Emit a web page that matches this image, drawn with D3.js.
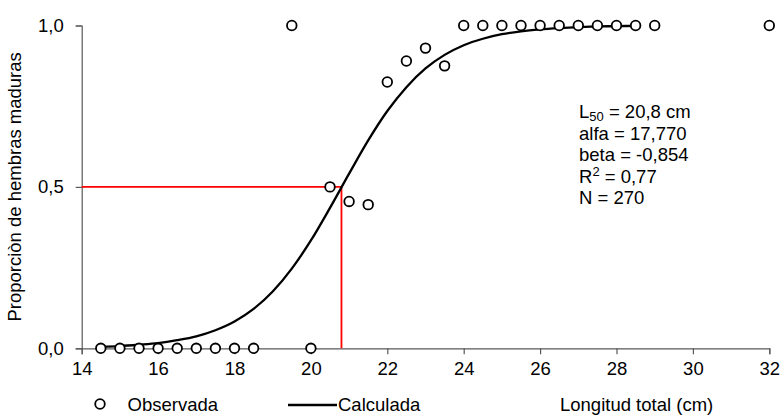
<!DOCTYPE html>
<html lang="es">
  <head>
    <meta charset="UTF-8" />
    <title>Ojiva de madurez</title>
    <style>
      body {
        margin: 0;
        background: #fff;
        font-family: "Liberation Sans", Arial, sans-serif;
      }
      svg text {
        fill: #000;
        font-size: 18.5px;
      }
    </style>
  </head>
  <body>
    <div id="chart"></div>
    <script src="https://d3js.org/d3.v7.min.js"></script>
    <script>
      // observed proportion of mature females by length class
      const obsLength = [14.5, 15, 15.5, 16, 16.5, 17, 17.5, 18, 18.5, 19.5, 20, 20.5, 21, 21.5,
        22, 22.5, 23, 23.5, 24, 24.5, 25, 25.5, 26, 26.5, 27, 27.5, 28, 28.5, 29, 32];
      const obsProp = [0, 0, 0, 0, 0, 0, 0, 0, 0, 1, 0, 0.5, 0.455, 0.445,
        0.825, 0.89, 0.93, 0.875, 1, 1, 1, 1, 1, 1, 1, 1, 1, 1, 1, 1];

      // fitted curve
      const calcLength = [14.5, 15, 15.5, 16, 16.5, 17, 17.5, 18, 18.5, 19, 19.5, 20, 20.5, 21,
        21.5, 22, 22.5, 23, 23.5, 24, 24.5, 25, 25.5, 26, 26.5, 27, 27.5, 28, 28.5];
      const calcProp = [0.005, 0.007, 0.011, 0.016, 0.025, 0.037, 0.056, 0.083, 0.122, 0.176,
        0.247, 0.334, 0.435, 0.541, 0.644, 0.735, 0.809, 0.867, 0.909, 0.939, 0.959, 0.973,
        0.982, 0.988, 0.992, 0.995, 0.997, 0.998, 0.999];

      const L50 = 20.8;
      const xTicks = [14, 16, 18, 20, 22, 24, 26, 28, 30, 32];
      const yTicks = [0, 0.5, 1];
      const statLines = [
        ["L", "50", " = 20,8 cm"],
        ["alfa = 17,770"],
        ["beta = -0,854"],
        ["R", "2", " = 0,77"],
        ["N = 270"],
      ];

      const width = 780, height = 415;
      const svg = d3.select("#chart").append("svg")
        .attr("width", width).attr("height", height);

      const x = d3.scaleLinear().domain([14, 32]).range([81.7, 769.3]);
      const y = d3.scaleLinear().domain([0, 1]).range([348.3, 25.5]);
      const fmt = (d) => d.toFixed(1).replace(".", ",");

      // axes
      const xAxis = svg.append("g")
        .attr("transform", `translate(0,${y(0)})`)
        .call(d3.axisBottom(x).tickValues(xTicks).tickSize(6).tickPadding(8).tickFormat((d) => d));
      const yAxis = svg.append("g")
        .attr("transform", `translate(${x(14)},0)`)
        .call(d3.axisLeft(y).tickValues(yTicks).tickSize(6).tickPadding(12).tickFormat(fmt));
      [xAxis, yAxis].forEach((g) => {
        g.select(".domain").attr("stroke", "#595959").attr("stroke-width", 1.2);
        g.selectAll(".tick line").attr("stroke", "#595959").attr("stroke-width", 1.2);
        g.selectAll(".tick text").attr("font-size", "18.5px").attr("font-family", "Liberation Sans, Arial, sans-serif").attr("fill", "#000");
      });

      // L50 guide lines
      svg.append("path")
        .attr("d", `M${x(14)},${y(0.5)}H${x(L50)}V${y(0)}`)
        .attr("fill", "none").attr("stroke", "#ff0000").attr("stroke-width", 1.8);

      // fitted curve
      const line = d3.line()
        .x((d, i) => x(calcLength[i]))
        .y((d) => y(d))
        .curve(d3.curveMonotoneX);
      svg.append("path")
        .attr("d", line(calcProp))
        .attr("fill", "none").attr("stroke", "#000").attr("stroke-width", 2.3);

      // observed points
      svg.selectAll(".obs").data(obsProp).enter().append("circle")
        .attr("class", "obs")
        .attr("cx", (d, i) => x(obsLength[i]))
        .attr("cy", (d) => y(d))
        .attr("r", 4.8)
        .attr("fill", "#fff").attr("stroke", "#000").attr("stroke-width", 1.8);

      // y title
      svg.append("text")
        .attr("transform", `translate(21,${y(0.5)}) rotate(-90)`)
        .attr("text-anchor", "middle")
        .attr("font-size", "17px")
        .text("Proporciòn de hembras maduras");

      // stats box
      statLines.forEach((parts, i) => {
        const t = svg.append("text").attr("x", 579).attr("y", 118 + i * 21.6);
        if (parts.length === 1) {
          t.text(parts[0]);
        } else {
          t.append("tspan").text(parts[0]);
          t.append("tspan").attr("font-size", "13px")
            .attr("dy", i === 0 ? 3 : -7).text(parts[1]);
          t.append("tspan").attr("dy", i === 0 ? -3 : 7).text(parts[2]);
        }
      });

      // legend
      const ly = 404;
      svg.append("circle").attr("cx", 100).attr("cy", ly).attr("r", 4.8)
        .attr("fill", "#fff").attr("stroke", "#000").attr("stroke-width", 1.8);
      svg.append("text").attr("x", 127.5).attr("y", ly + 6.5).text("Observada");
      svg.append("line").attr("x1", 288).attr("x2", 337).attr("y1", ly + 1).attr("y2", ly + 1)
        .attr("stroke", "#000").attr("stroke-width", 2.3);
      svg.append("text").attr("x", 338).attr("y", ly + 6.5).text("Calculada");
      svg.append("text").attr("x", 560).attr("y", ly + 6.5).attr("font-size", "18.8px")
        .text("Longitud total (cm)");
    </script>
  </body>
</html>
